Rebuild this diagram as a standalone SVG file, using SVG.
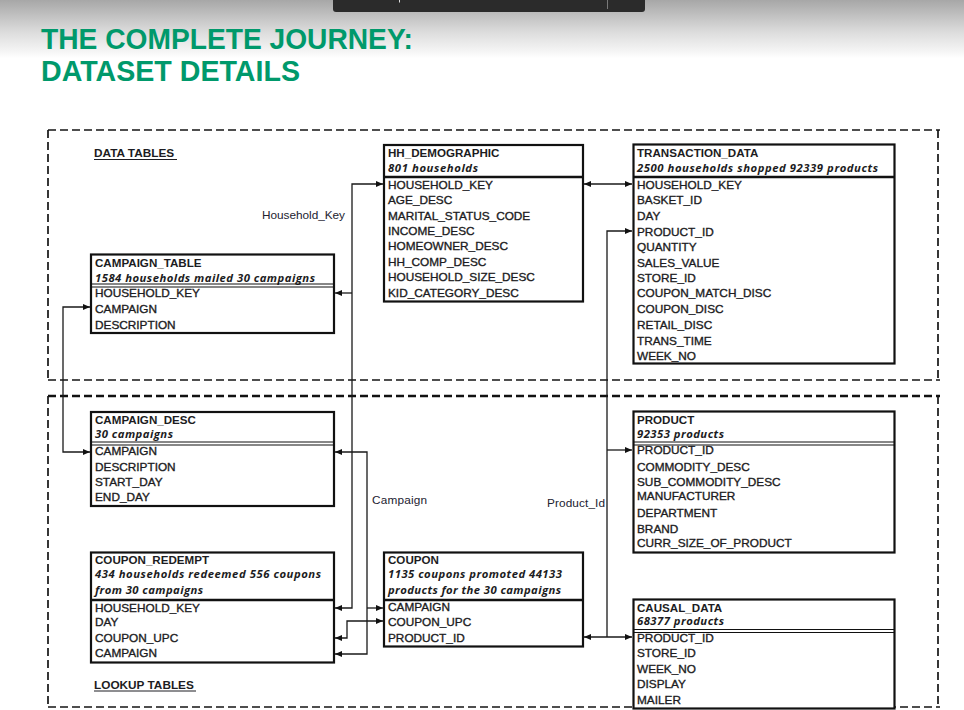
<svg xmlns="http://www.w3.org/2000/svg" width="964" height="710" viewBox="0 0 964 710">
<defs>
<linearGradient id="bg" x1="0" y1="0" x2="0" y2="1">
<stop offset="0" stop-color="#a7a7a7"/>
<stop offset="0.55" stop-color="#dcdcdc"/>
<stop offset="0.9" stop-color="#f6f6f6"/>
<stop offset="1" stop-color="#ffffff"/>
</linearGradient>
<marker id="ah" viewBox="0 0 7 6" refX="7" refY="3" markerWidth="7" markerHeight="6" markerUnits="userSpaceOnUse" orient="auto-start-reverse">
<path d="M0,0 L7,3 L0,6 z" fill="#111"/>
</marker>
<style>
.dash{fill:none;stroke:#151515;stroke-width:1.7;stroke-dasharray:8 4}
.dash2{fill:none;stroke:#111;stroke-width:2.3;stroke-dasharray:8 4}
.box{fill:#fff;stroke:#111;stroke-width:2.2}
.d1{stroke:#111;stroke-width:2.4}
.d2{stroke:#111;stroke-width:1.1}
.t{font-family:"Liberation Sans",Arial,sans-serif;font-weight:bold;font-size:11.6px;fill:#1c1c22}
.s{font-family:"Open Sans","Liberation Sans",sans-serif;font-style:italic;font-weight:bold;font-size:11.3px;fill:#1c1c22}
.f{font-family:"Liberation Sans",Arial,sans-serif;font-size:11.8px;fill:#1c1c22;stroke:#1c1c22;stroke-width:0.35}
.l{font-family:"Liberation Sans",Arial,sans-serif;font-size:11.8px;fill:#222230}
.h{font-family:"Liberation Sans",Arial,sans-serif;font-weight:bold;font-size:11.8px;fill:#1c1c22}
.ttl{font-family:"Liberation Sans",Arial,sans-serif;font-weight:bold;font-size:29px;fill:#00996b}
.c{fill:none;stroke:#1a1a1a;stroke-width:1.3}
</style>
</defs>
<rect x="0" y="0" width="964" height="710" fill="#fff"/>
<rect x="0" y="0" width="964" height="58" fill="url(#bg)"/>
<rect x="333" y="-6" width="312" height="18" rx="3" fill="#2b2b2b"/>
<line x1="607.5" y1="0" x2="607.5" y2="9" stroke="#7a7a7a" stroke-width="1"/>
<line x1="399.5" y1="0" x2="399.5" y2="2.5" stroke="#dddddd" stroke-width="1"/>
<text class="ttl" x="41" y="49" textLength="372" lengthAdjust="spacingAndGlyphs">THE COMPLETE JOURNEY:</text>
<text class="ttl" x="41" y="81" textLength="259" lengthAdjust="spacingAndGlyphs">DATASET DETAILS</text>

<g id="frame">
<path class="dash" d="M48,130 H940"/>
<path class="dash" d="M48,130 V380"/>
<path class="dash" d="M938,130 V380"/>
<path class="dash" d="M48,380 H940"/>
<path class="dash2" d="M48,396 H940"/>
<path class="dash" d="M48,396 V707"/>
<path class="dash" d="M938,396 V707"/>
<path class="dash" d="M48,707 H940"/>
</g>

<g id="labels">
<text class="h" x="94" y="157">DATA TABLES</text>
<line x1="94" y1="159.5" x2="177" y2="159.5" stroke="#1c1c22" stroke-width="1"/>
<text class="h" x="94" y="688.5">LOOKUP TABLES</text>
<line x1="94" y1="691" x2="196" y2="691" stroke="#1c1c22" stroke-width="1"/>
<text class="l" x="262" y="219" textLength="83">Household_Key</text>
<text class="l" x="372" y="504" textLength="55">Campaign</text>
<text class="l" x="547" y="507" textLength="58">Product_Id</text>
</g>

<g id="connectors">
<path class="c" d="M383,184 H352 V608 H335" marker-start="url(#ah)" marker-end="url(#ah)"/>
<path class="c" d="M352,293 H335" marker-end="url(#ah)"/>
<path class="c" d="M335,452 H367 V654 H335" marker-start="url(#ah)" marker-end="url(#ah)"/>
<path class="c" d="M367,608 H383" marker-end="url(#ah)"/>
<path class="c" d="M383,621 H347 V638 H335" marker-start="url(#ah)" marker-end="url(#ah)"/>
<path class="c" d="M90,307 H63 V452 H90" marker-start="url(#ah)" marker-end="url(#ah)"/>
<path class="c" d="M584,184 H632" marker-start="url(#ah)" marker-end="url(#ah)"/>
<path class="c" d="M632,231 H607 V637" marker-start="url(#ah)"/>
<path class="c" d="M607,450 H632" marker-end="url(#ah)"/>
<path class="c" d="M584,637 H632" marker-start="url(#ah)" marker-end="url(#ah)"/>
</g>

<g id="campaign_table">
<rect class="box" x="91" y="254.5" width="243" height="78.5"/>
<text class="t" x="95" y="267">CAMPAIGN_TABLE</text>
<text class="s" x="95" y="281.5" textLength="220">1584 households mailed 30 campaigns</text>
<line class="d2" x1="91" y1="284" x2="334" y2="284"/>
<line class="d2" x1="91" y1="287" x2="334" y2="287"/>
<text class="f" x="95" y="297">HOUSEHOLD_KEY</text>
<text class="f" x="95" y="313">CAMPAIGN</text>
<text class="f" x="95" y="329">DESCRIPTION</text>
</g>

<g id="hh_demographic">
<rect class="box" x="384" y="145" width="199" height="156.5"/>
<text class="t" x="388" y="157">HH_DEMOGRAPHIC</text>
<text class="s" x="388" y="172" textLength="90">801 households</text>
<line class="d1" x1="384" y1="177" x2="583" y2="177"/>
<text class="f" x="388" y="189">HOUSEHOLD_KEY</text>
<text class="f" x="388" y="204">AGE_DESC</text>
<text class="f" x="388" y="219.5">MARITAL_STATUS_CODE</text>
<text class="f" x="388" y="235">INCOME_DESC</text>
<text class="f" x="388" y="250">HOMEOWNER_DESC</text>
<text class="f" x="388" y="266">HH_COMP_DESC</text>
<text class="f" x="388" y="281">HOUSEHOLD_SIZE_DESC</text>
<text class="f" x="388" y="297">KID_CATEGORY_DESC</text>
</g>

<g id="transaction_data">
<rect class="box" x="633.5" y="144.5" width="261" height="219"/>
<text class="t" x="637" y="157">TRANSACTION_DATA</text>
<text class="s" x="637" y="172" textLength="241">2500 households shopped 92339 products</text>
<line class="d1" x1="633.5" y1="177" x2="894.5" y2="177"/>
<text class="f" x="637" y="189">HOUSEHOLD_KEY</text>
<text class="f" x="637" y="204">BASKET_ID</text>
<text class="f" x="637" y="219.5">DAY</text>
<text class="f" x="637" y="235.5">PRODUCT_ID</text>
<text class="f" x="637" y="250.5">QUANTITY</text>
<text class="f" x="637" y="266.5">SALES_VALUE</text>
<text class="f" x="637" y="281.5">STORE_ID</text>
<text class="f" x="637" y="297">COUPON_MATCH_DISC</text>
<text class="f" x="637" y="313">COUPON_DISC</text>
<text class="f" x="637" y="328.5">RETAIL_DISC</text>
<text class="f" x="637" y="345">TRANS_TIME</text>
<text class="f" x="637" y="360">WEEK_NO</text>
</g>

<g id="campaign_desc">
<rect class="box" x="91" y="412" width="243" height="94"/>
<text class="t" x="95" y="423.5">CAMPAIGN_DESC</text>
<text class="s" x="95" y="437.5" textLength="78">30 campaigns</text>
<line class="d2" x1="91" y1="442" x2="334" y2="442"/>
<line class="d2" x1="91" y1="445" x2="334" y2="445"/>
<text class="f" x="95" y="454.5">CAMPAIGN</text>
<text class="f" x="95" y="470.5">DESCRIPTION</text>
<text class="f" x="95" y="486">START_DAY</text>
<text class="f" x="95" y="500.5">END_DAY</text>
</g>

<g id="coupon_redempt">
<rect class="box" x="91" y="552.5" width="243" height="110"/>
<text class="t" x="95" y="564">COUPON_REDEMPT</text>
<text class="s" x="95" y="578" textLength="226">434 households redeemed 556 coupons</text>
<text class="s" x="95" y="593.5" textLength="108">from 30 campaigns</text>
<line class="d1" x1="91" y1="600" x2="334" y2="600"/>
<text class="f" x="95" y="611.5">HOUSEHOLD_KEY</text>
<text class="f" x="95" y="625.5">DAY</text>
<text class="f" x="95" y="641.5">COUPON_UPC</text>
<text class="f" x="95" y="656.5">CAMPAIGN</text>
</g>

<g id="coupon">
<rect class="box" x="384" y="552.5" width="199" height="94"/>
<text class="t" x="388" y="564">COUPON</text>
<text class="s" x="388" y="578" textLength="174">1135 coupons promoted 44133</text>
<text class="s" x="388" y="593.5" textLength="173">products for the 30 campaigns</text>
<line class="d1" x1="384" y1="600" x2="583" y2="600"/>
<text class="f" x="388" y="611">CAMPAIGN</text>
<text class="f" x="388" y="625.5">COUPON_UPC</text>
<text class="f" x="388" y="641.5">PRODUCT_ID</text>
</g>

<g id="product">
<rect class="box" x="633.5" y="411.5" width="261" height="141"/>
<text class="t" x="637" y="423.5">PRODUCT</text>
<text class="s" x="637" y="437.5" textLength="87">92353 products</text>
<line class="d2" x1="633.5" y1="442" x2="894.5" y2="442"/>
<line class="d2" x1="633.5" y1="445" x2="894.5" y2="445"/>
<text class="f" x="637" y="454">PRODUCT_ID</text>
<text class="f" x="637" y="470.5">COMMODITY_DESC</text>
<text class="f" x="637" y="485.5">SUB_COMMODITY_DESC</text>
<text class="f" x="637" y="500">MANUFACTURER</text>
<text class="f" x="637" y="516.5">DEPARTMENT</text>
<text class="f" x="637" y="533">BRAND</text>
<text class="f" x="637" y="547">CURR_SIZE_OF_PRODUCT</text>
</g>

<g id="causal_data">
<rect class="box" x="633.5" y="599.5" width="261" height="109"/>
<text class="t" x="637" y="611.5">CAUSAL_DATA</text>
<text class="s" x="637" y="625" textLength="87">68377 products</text>
<line class="d2" x1="633.5" y1="629.5" x2="894.5" y2="629.5"/>
<line class="d2" x1="633.5" y1="632.5" x2="894.5" y2="632.5"/>
<text class="f" x="637" y="641.5">PRODUCT_ID</text>
<text class="f" x="637" y="656.5">STORE_ID</text>
<text class="f" x="637" y="672.5">WEEK_NO</text>
<text class="f" x="637" y="688">DISPLAY</text>
<text class="f" x="637" y="704">MAILER</text>
</g>
</svg>
